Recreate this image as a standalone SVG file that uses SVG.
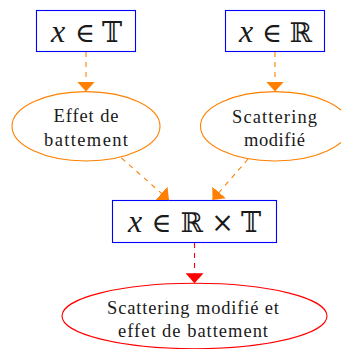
<svg xmlns="http://www.w3.org/2000/svg" width="341" height="349" viewBox="0 0 341 349">
<style>
.box{fill:#fff;stroke:#0000ff;stroke-width:1.1}
.ell{fill:#fff;stroke:#ff8000;stroke-width:1.1}
.ellr{fill:#fff;stroke:#ff0000;stroke-width:1.1}
.math{font-family:"DejaVu Serif","DejaVu Sans",serif;font-size:27px;fill:#1a1a1a;text-anchor:middle}
.mi{font-family:"Liberation Serif","DejaVu Serif",serif;font-style:italic;font-size:32px}
.lbl{font-family:"Liberation Serif",serif;font-size:18.5px;fill:#1a1a1a;text-anchor:middle}
.co{stroke:#ff8000;stroke-width:1.1;stroke-dasharray:5 5;fill:none}
.cr{stroke:#ff0000;stroke-width:1.1;stroke-dasharray:5 5;fill:none}
</style>
<defs>
<marker id="ao" viewBox="0 0 10 18" refX="10" refY="9" markerWidth="10" markerHeight="18" markerUnits="userSpaceOnUse" orient="auto"><path d="M0,0 L10,9 L0,18 z" fill="#ff8000"/></marker>
<marker id="ar" viewBox="0 0 10 18" refX="10" refY="9" markerWidth="10" markerHeight="18" markerUnits="userSpaceOnUse" orient="auto"><path d="M0,0 L10,9 L0,18 z" fill="#ff0000"/></marker>
</defs>
<g id="nodeT">
<rect class="box" x="36.5" y="10.5" width="99" height="41"/>
<text class="math" y="41.5"><tspan class="mi" x="58">x</tspan><tspan x="85">∈</tspan><tspan x="112">𝕋</tspan></text>
</g>
<g id="nodeR">
<rect class="box" x="225.5" y="10.5" width="99" height="41"/>
<text class="math" y="41.5"><tspan class="mi" x="246">x</tspan><tspan x="272">∈</tspan><tspan x="301">ℝ</tspan></text>
</g>
<g id="effet">
<ellipse class="ell" cx="86" cy="126.3" rx="74" ry="34.7"/>
<text class="lbl" x="86" y="122" textLength="65">Effet de</text>
<text class="lbl" x="86" y="146" textLength="84">battement</text>
</g>
<g id="scatter">
<ellipse class="ell" cx="275" cy="126.3" rx="74.5" ry="34.7"/>
<text class="lbl" x="274.5" y="123" textLength="85">Scattering</text>
<text class="lbl" x="274.5" y="146" textLength="61">modifié</text>
</g>
<g id="nodeRT">
<rect class="box" x="112.5" y="200.5" width="164" height="42"/>
<text class="math" y="232"><tspan class="mi" x="135">x</tspan><tspan x="161.5">∈</tspan><tspan x="192">ℝ</tspan><tspan x="222.5">×</tspan><tspan x="251">𝕋</tspan></text>
</g>
<g id="result">
<ellipse class="ellr" cx="194.5" cy="316" rx="132.5" ry="32.7"/>
<text class="lbl" x="193" y="314" textLength="172">Scattering modifié et</text>
<text class="lbl" x="193" y="337" textLength="150">effet de battement</text>
</g>
<g id="connectors">
<path class="co" d="M86,52 L86,91.6" marker-end="url(#ao)"/>
<path class="co" d="M275,52 L275,91.6" marker-end="url(#ao)"/>
<path class="co" d="M121.5,158 L169,200" marker-end="url(#ao)"/>
<path class="co" d="M248,159 L212.5,200" marker-end="url(#ao)"/>
<path class="cr" d="M194.5,243 L194.5,283.3" marker-end="url(#ar)"/>
</g>
</svg>
